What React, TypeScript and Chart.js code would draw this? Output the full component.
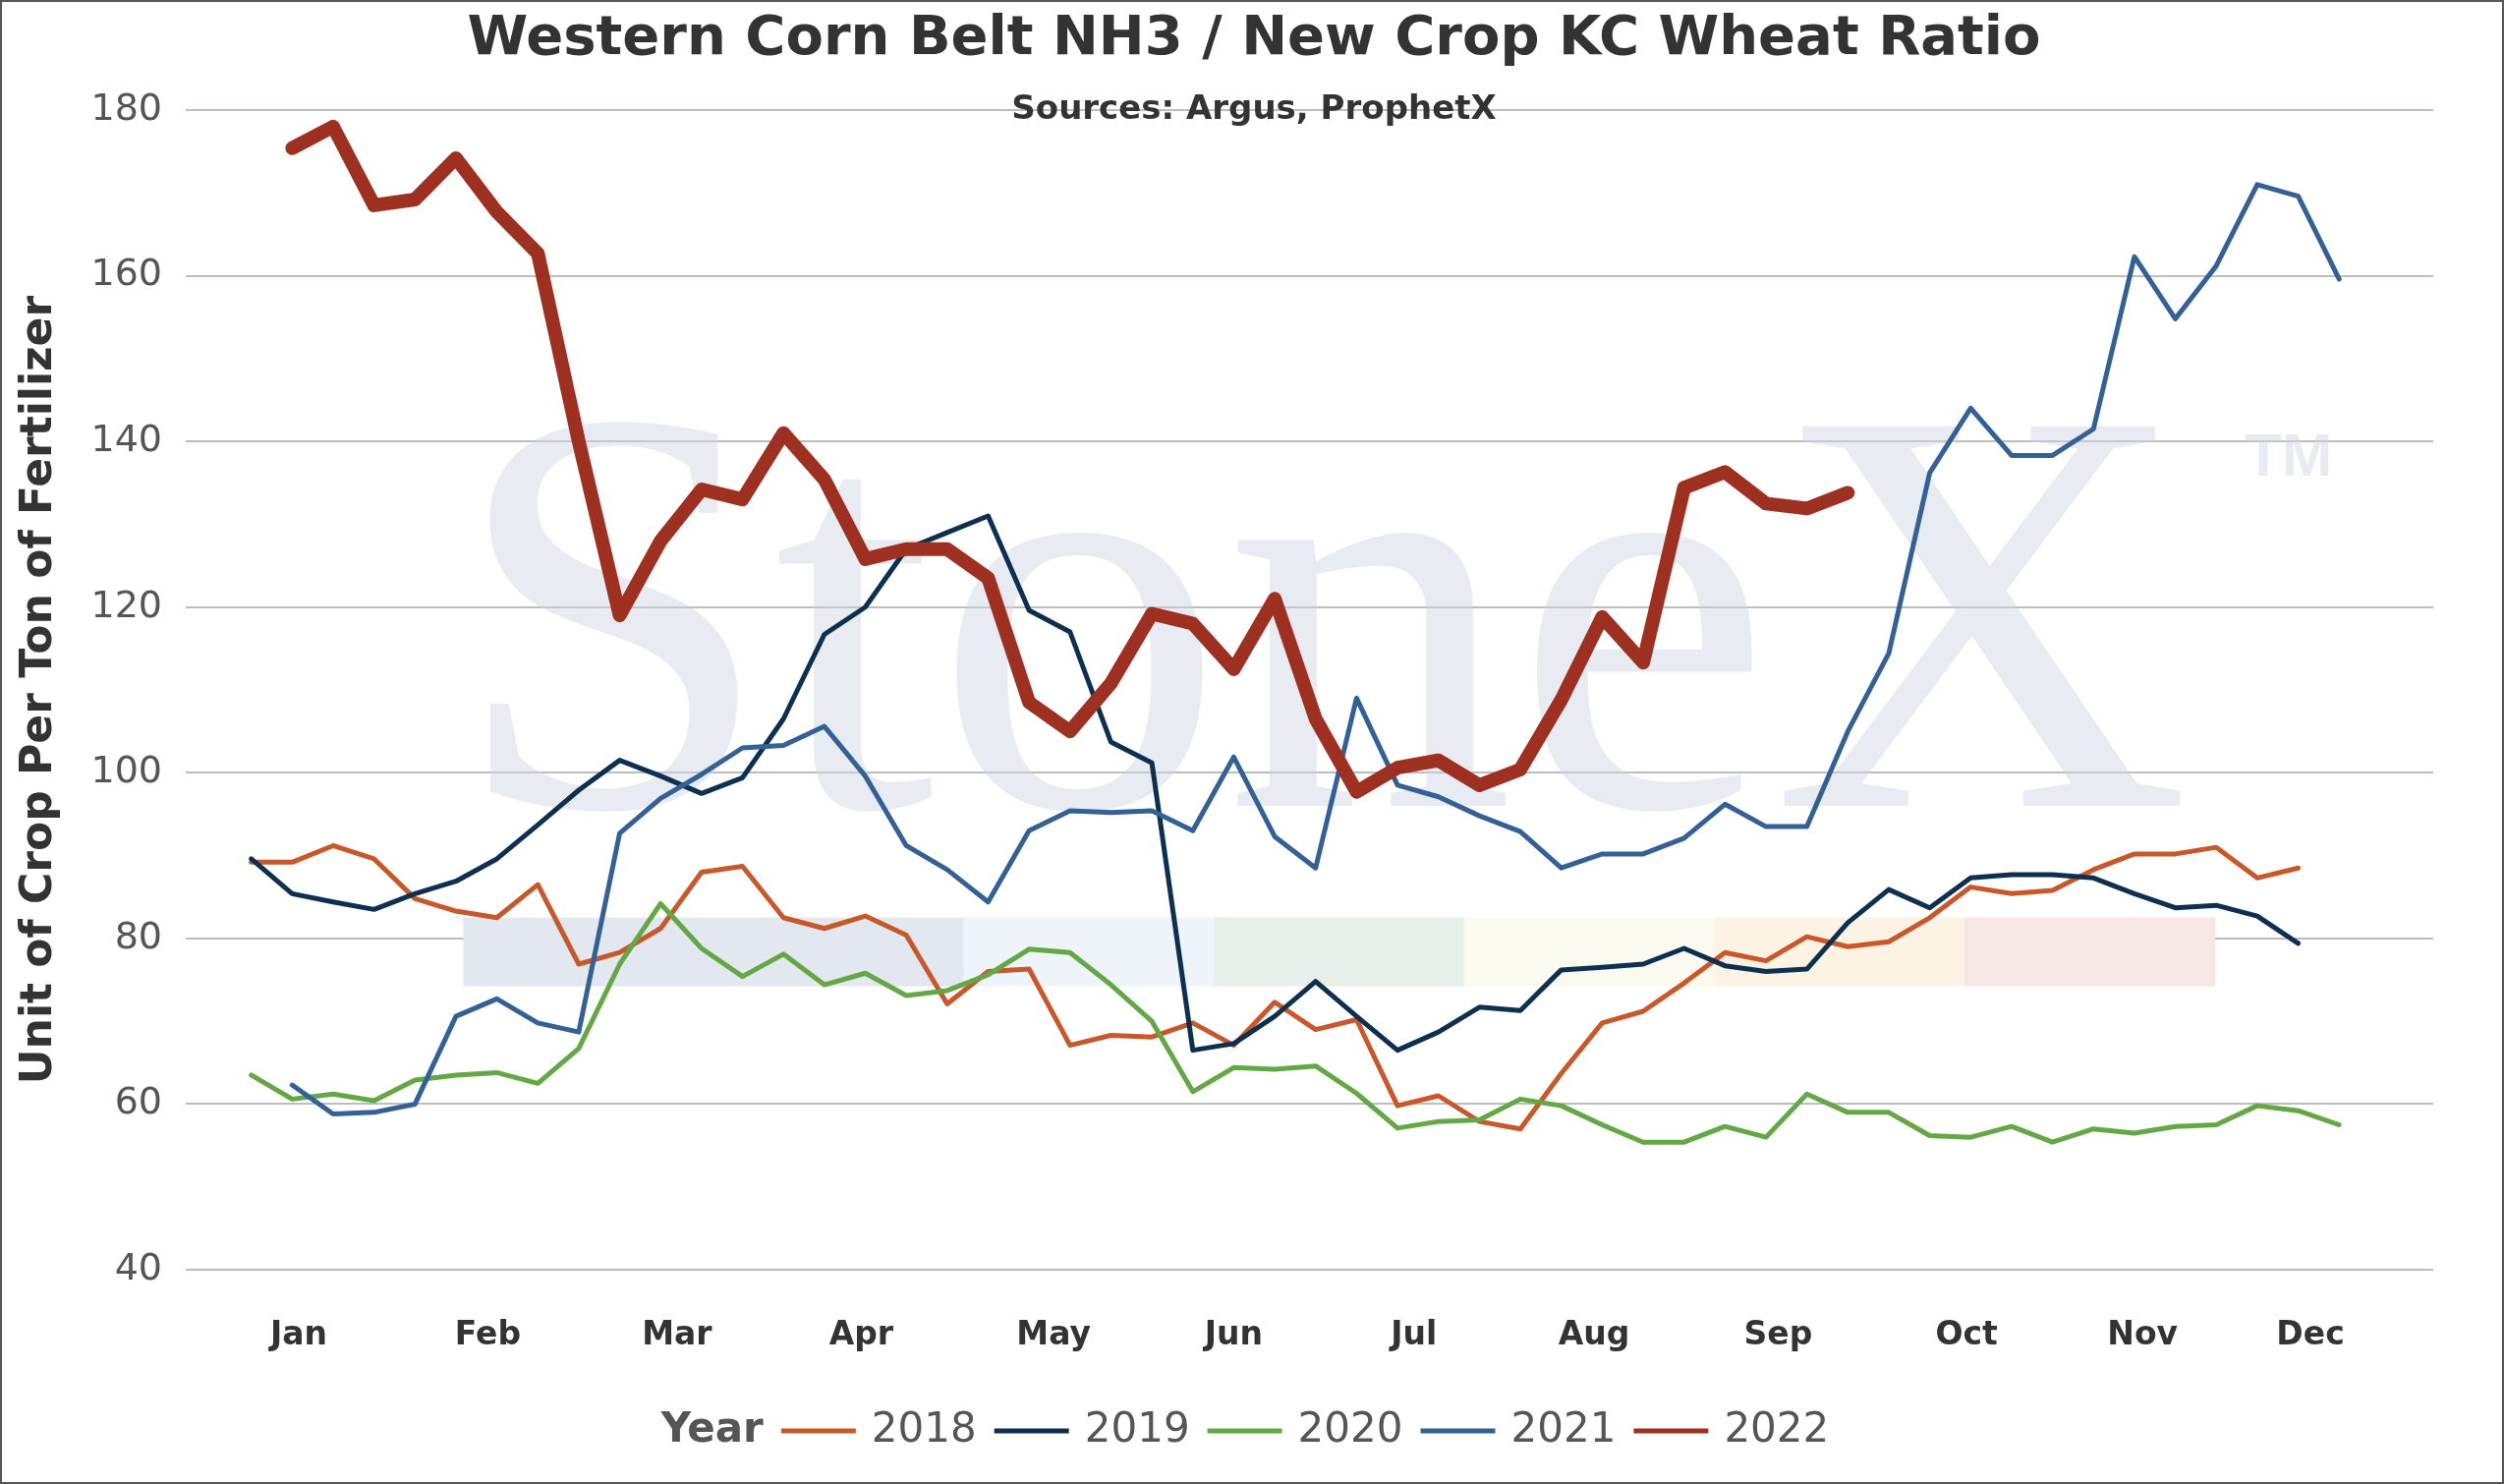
import React, { useEffect, useRef } from "react";
import { Chart, registerables } from "chart.js";
Chart.register(...registerables);

const years = ["2018", "2019", "2020", "2021", "2022"];
const colors = ["#c8582a", "#0d3050", "#63a844", "#336196", "#9e3022"];
const startWeek = [0, 0, 0, 1, 1];
const s2018 = [89.2, 89.2, 91.2, 89.6, 84.8, 83.3, 82.5, 86.5, 76.9, 78.3, 81.2, 88, 88.7, 82.5, 81.2, 82.7, 80.4, 72.1, 76, 76.3, 67.1, 68.3, 68.1, 69.8, 67.1, 72.3, 69, 70.2, 59.8, 61, 57.9, 57, 63.7, 69.8, 71.2, 74.6, 78.3, 77.3, 80.2, 79, 79.6, 82.5, 86.2, 85.4, 85.8, 88.3, 90.2, 90.2, 91, 87.3, 88.5];
const s2019 = [89.6, 85.4, 84.4, 83.5, 85.4, 86.9, 89.6, 93.7, 97.9, 101.5, 99.6, 97.5, 99.4, 106.5, 116.7, 120, 127, 129, 131, 119.6, 117, 103.7, 101.2, 66.5, 67.3, 70.6, 74.8, 70.6, 66.5, 68.7, 71.7, 71.3, 76.2, 76.5, 76.9, 78.8, 76.7, 76, 76.3, 81.9, 85.9, 83.7, 87.3, 87.7, 87.7, 87.3, 85.4, 83.7, 84, 82.7, 79.4];
const s2020 = [63.5, 60.6, 61.2, 60.4, 62.9, 63.5, 63.8, 62.5, 66.7, 76.9, 84.2, 78.8, 75.4, 78.1, 74.4, 75.8, 73.1, 73.7, 75.6, 78.7, 78.3, 74.4, 70, 61.5, 64.4, 64.2, 64.6, 61.3, 57.1, 57.9, 58.1, 60.6, 59.8, 57.5, 55.4, 55.4, 57.3, 56, 61.2, 59, 59, 56.2, 56, 57.3, 55.4, 57, 56.5, 57.3, 57.5, 59.8, 59.2, 57.5];
const s2021 = [62.3, 58.8, 59, 60, 70.6, 72.7, 69.8, 68.7, 92.7, 96.9, 99.8, 103, 103.3, 105.6, 99.6, 91.2, 88.3, 84.4, 93, 95.4, 95.2, 95.4, 93, 101.9, 92.3, 88.5, 109, 98.5, 97.1, 94.8, 92.9, 88.5, 90.2, 90.2, 92.1, 96.2, 93.5, 93.5, 105, 114.4, 136.2, 144, 138.3, 138.3, 141.5, 162.3, 154.8, 161.2, 171, 169.6, 159.6];
const s2022 = [175.4, 178, 168.5, 169.2, 174.2, 167.7, 162.7, 140, 119, 128, 134.2, 133, 141, 135.4, 125.8, 127, 127, 123.5, 108.5, 105, 110.8, 119.2, 118, 112.5, 121, 106.5, 97.7, 100.6, 101.5, 98.5, 100.4, 108.8, 118.8, 113.3, 134.4, 136.3, 132.5, 131.9, 133.8];
const series = [s2018, s2019, s2020, s2021, s2022];
const monthLabels = ["Jan", "Feb", "Mar", "Apr", "May", "Jun", "Jul", "Aug", "Sep", "Oct", "Nov", "Dec"];
const monthWeeks = [1.16, 5.78, 10.4, 14.9, 19.6, 24, 28.4, 32.8, 37.3, 41.9, 46.2, 50.3];
const yTicks = [40, 60, 80, 100, 120, 140, 160, 180];

const bandColors = ["#e3e8f0", "#e3e8f0", "#eef4fa", "#e6efe8", "#fbfaee", "#fdf3e4", "#f7e6e6"];

export default function App() {
  const ref = useRef<HTMLCanvasElement>(null);
  useEffect(() => {
    document.body.style.margin = "0";
    const ctx = ref.current!.getContext("2d")!;
    const deco = {
      id: "deco",
      beforeDatasetsDraw(chart: any) {
        const c = chart.ctx;
        const a = chart.chartArea;
        const w = a.right - a.left;
        const h = a.bottom - a.top;
        c.save();
        const bx0 = a.left + w * 0.1235;
        const bw = w * 0.1113;
        bandColors.forEach((col, k) => {
          c.fillStyle = col;
          c.fillRect(bx0 + bw * k, a.top + h * 0.6963, bw + 1, h * 0.0593);
        });
        c.fillStyle = "rgba(205,212,226,0.45)";
        c.font = "590px 'Liberation Serif'";
        c.textBaseline = "alphabetic";
        c.fillText("StoneX", a.left + w * 0.118, a.top + h * 0.6);
        c.font = "bold 62px 'Liberation Sans'";
        c.fillText("TM", a.left + w * 0.916, a.top + h * 0.315);
        c.restore();
      },
      afterDraw(chart: any) {
        const c = chart.ctx;
        c.save();
        c.fillStyle = "#333";
        c.textAlign = "center";
        c.textBaseline = "middle";
        c.font = "bold 56px 'DejaVu Sans'";
        c.fillText("Western Corn Belt NH3 / New Crop KC Wheat Ratio", 1274, 38);
        c.font = "bold 34px 'DejaVu Sans'";
        c.fillText("Sources: Argus, ProphetX", 1274, 110);
        const fs = 42;
        c.font = `bold ${fs}px 'DejaVu Sans'`;
        const yearW = c.measureText("Year").width;
        c.font = `${fs}px 'DejaVu Sans'`;
        const lineW = 76, gap1 = 16, gap2 = 18;
        let total = yearW + gap2;
        years.forEach((y) => { total += lineW + gap1 + c.measureText(y).width + gap2; });
        let x = 1274 - total / 2;
        const ly = 1454;
        c.textAlign = "left";
        c.font = `bold ${fs}px 'DejaVu Sans'`;
        c.fillStyle = "#555";
        c.fillText("Year", x, ly);
        x += yearW + gap2;
        c.font = `${fs}px 'DejaVu Sans'`;
        years.forEach((y, k) => {
          c.strokeStyle = colors[k];
          c.lineWidth = 5;
          c.beginPath();
          c.moveTo(x, ly);
          c.lineTo(x + lineW, ly);
          c.stroke();
          x += lineW + gap1;
          c.fillStyle = "#555";
          c.fillText(y, x, ly);
          x += c.measureText(y).width + gap2;
        });
        c.restore();
      },
    };
    const chart = new Chart(ctx, {
      type: "line",
      data: {
        datasets: series.map((s, k) => ({
          label: years[k],
          data: s.map((v, i) => ({ x: i + startWeek[k], y: v })),
          borderColor: colors[k],
          backgroundColor: colors[k],
          borderWidth: k === 4 ? 14 : 5,
          pointRadius: 0,
          tension: 0,
          borderCapStyle: "round",
          borderJoinStyle: "round",
          order: 4 - k,
        })),
      },
      options: {
        animation: false,
        responsive: false,
        layout: { padding: { left: 0, right: 70, top: 110, bottom: 0 } },
        plugins: { legend: { display: false }, tooltip: { enabled: false } },
        scales: {
          x: {
            type: "linear",
            min: -1.6,
            max: 53.3,
            grid: { display: false },
            border: { display: false },
            afterFit: (s: any) => { s.height = 216; },
            afterBuildTicks: (s: any) => { s.ticks = monthWeeks.map((v) => ({ value: v })); },
            ticks: {
              autoSkip: false,
              maxRotation: 0,
              padding: 40,
              color: "#333",
              font: { family: "'DejaVu Sans'", size: 33, weight: "bold" },
              callback: (v: any) => monthLabels[monthWeeks.indexOf(Number(v))] ?? "",
            },
          },
          y: {
            min: 40,
            max: 180,
            afterFit: (s: any) => { s.width = 187; },
            afterBuildTicks: (s: any) => { s.ticks = yTicks.map((v) => ({ value: v })); },
            grid: { color: "#bdbdbd", lineWidth: 2, drawTicks: false },
            border: { display: false },
            ticks: {
              padding: 24,
              color: "#555",
              font: { family: "'DejaVu Sans'", size: 38 },
            },
            title: {
              display: true,
              text: "Unit of Crop Per Ton of Fertilizer",
              color: "#333",
              padding: { top: 12, bottom: 0 },
              font: { family: "'DejaVu Sans'", size: 44, weight: "bold" },
            },
          },
        },
      },
      plugins: [deco],
    } as any);
    return () => chart.destroy();
  }, []);
  return (
    <div style={{ width: 2548, height: 1510, boxSizing: "border-box", border: "2px solid #555", background: "#fff" }}>
      <canvas ref={ref} width={2544} height={1506} style={{ display: "block" }} />
    </div>
  );
}
